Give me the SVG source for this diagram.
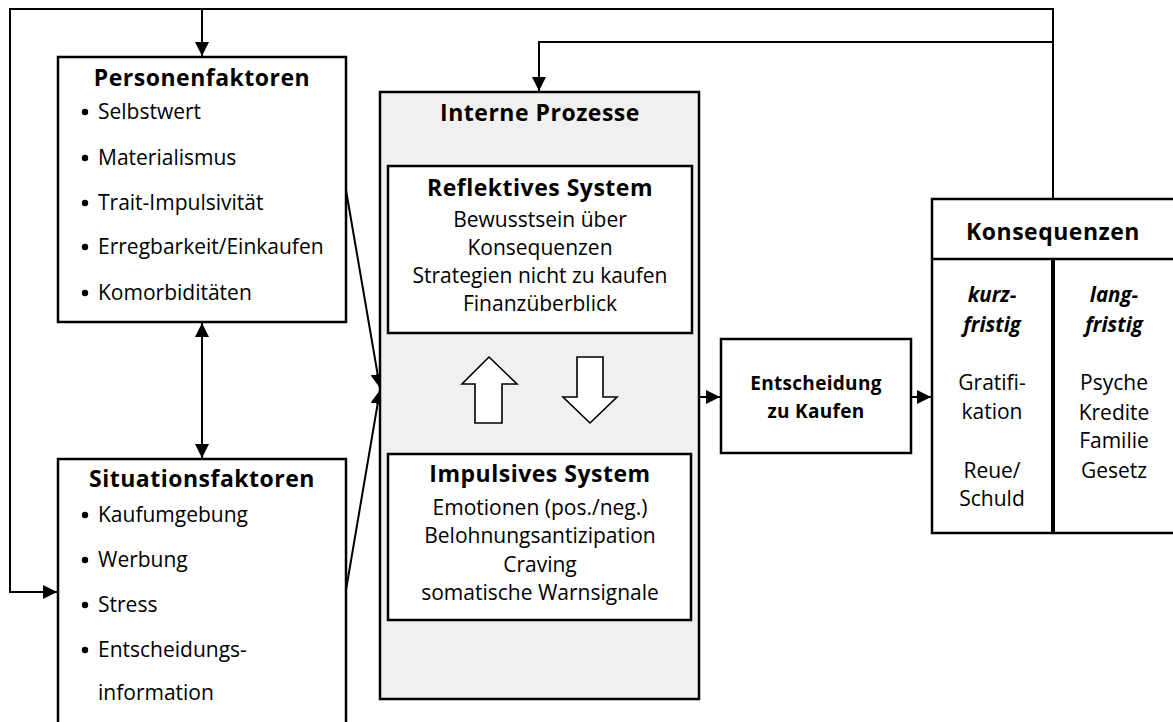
<svg xmlns="http://www.w3.org/2000/svg" width="1173" height="722" viewBox="0 0 1173 722">
  <style>
    .box { fill: #ffffff; stroke: #000000; stroke-width: 2.5; }
    .grey { fill: #f0f0f0; stroke: #000000; stroke-width: 2.5; }
    .ln { fill: none; stroke: #000000; stroke-width: 2.5; }
    .wire { fill: none; stroke: #000000; stroke-width: 2; }
    .hollow { fill: #ffffff; stroke: #000000; stroke-width: 1.6; stroke-linejoin: miter; }
    text { font-family: "Open Sans", Lato, "Liberation Sans", sans-serif; fill: #000000; }
    .title { font-size: 23px; font-weight: bold; letter-spacing: 0.5px; text-anchor: middle; }
    .body { font-size: 21px; }
    .mid { text-anchor: middle; }
    .dec { font-size: 19px; font-weight: bold; letter-spacing: 0.3px; text-anchor: middle; }
    .term { font-size: 20.5px; font-weight: bold; font-style: italic; text-anchor: middle; }
  </style>
  <defs>
    <marker id="ah" viewBox="0 0 14 14" markerWidth="14" markerHeight="14" refX="14" refY="7" orient="auto-start-reverse" markerUnits="userSpaceOnUse">
      <path d="M0,0 L14,7 L0,14 z" fill="#000000"/>
    </marker>
  </defs>

  <rect width="1173" height="722" fill="#ffffff"/>

  <!-- connectors -->
  <g id="connectors">
    <!-- outer feedback loop from consequences to person and situation factors -->
    <polyline class="wire" points="1053,199 1053,9 10,9 10,592 57,592" marker-end="url(#ah)"/>
    <line class="wire" x1="202" y1="9" x2="202" y2="56" marker-end="url(#ah)"/>
    <!-- inner feedback to internal processes -->
    <polyline class="wire" points="1053,42 539,42 539,91" marker-end="url(#ah)"/>
    <!-- person <-> situation -->
    <line class="wire" x1="202" y1="323" x2="202" y2="458" marker-start="url(#ah)" marker-end="url(#ah)"/>
    <!-- factors into internal processes -->
    <line class="wire" x1="346" y1="190" x2="380" y2="388" marker-end="url(#ah)"/>
    <line class="wire" x1="346" y1="590" x2="380" y2="390" marker-end="url(#ah)"/>
    <!-- internal processes -> decision -> consequences -->
    <line class="wire" x1="699" y1="397" x2="720" y2="397" marker-end="url(#ah)"/>
    <line class="wire" x1="911" y1="397" x2="931" y2="397" marker-end="url(#ah)"/>
  </g>

  <g id="personenfaktoren">
    <rect class="box" x="58" y="57" width="288" height="265"/>
    <text class="title" x="202" y="86">Personenfaktoren</text>
    <g class="body">
      <circle cx="85" cy="112" r="3.2"/><text x="98" y="119">Selbstwert</text>
      <circle cx="85" cy="158" r="3.2"/><text x="98" y="165">Materialismus</text>
      <circle cx="85" cy="203" r="3.2"/><text x="98" y="210">Trait-Impulsivität</text>
      <circle cx="85" cy="247" r="3.2"/><text x="98" y="254">Erregbarkeit/Einkaufen</text>
      <circle cx="85" cy="293" r="3.2"/><text x="98" y="300">Komorbiditäten</text>
    </g>
  </g>

  <g id="situationsfaktoren">
    <rect class="box" x="58" y="459" width="288" height="280"/>
    <text class="title" x="202" y="487">Situationsfaktoren</text>
    <g class="body">
      <circle cx="85" cy="515" r="3.2"/><text x="98" y="522">Kaufumgebung</text>
      <circle cx="85" cy="560" r="3.2"/><text x="98" y="567">Werbung</text>
      <circle cx="85" cy="605" r="3.2"/><text x="98" y="612">Stress</text>
      <circle cx="85" cy="650" r="3.2"/><text x="98" y="657">Entscheidungs-</text>
      <text x="98" y="700">information</text>
    </g>
  </g>

  <g id="interne-prozesse">
    <rect class="grey" x="380" y="92" width="319" height="607"/>
    <text class="title" x="540" y="121">Interne Prozesse</text>

    <g id="reflektives-system">
      <rect class="box" x="388" y="166" width="304" height="167"/>
      <text class="title" x="540" y="196">Reflektives System</text>
      <g class="body mid">
        <text x="540" y="227">Bewusstsein über</text>
        <text x="540" y="255">Konsequenzen</text>
        <text x="540" y="283">Strategien nicht zu kaufen</text>
        <text x="540" y="311">Finanzüberblick</text>
      </g>
    </g>

    <!-- exchange between the two systems -->
    <polygon class="hollow" points="489,357 517,384 502,384 502,423 475,423 475,384 462,384"/>
    <polygon class="hollow" points="577,357 603,357 603,397 617,397 590,423 563,397 577,397"/>

    <g id="impulsives-system">
      <rect class="box" x="388" y="454" width="303" height="166"/>
      <text class="title" x="540" y="482">Impulsives System</text>
      <g class="body mid">
        <text x="540" y="515">Emotionen (pos./neg.)</text>
        <text x="540" y="543">Belohnungsantizipation</text>
        <text x="540" y="572">Craving</text>
        <text x="540" y="600">somatische Warnsignale</text>
      </g>
    </g>
  </g>

  <g id="entscheidung">
    <rect class="box" x="721" y="339" width="190" height="114"/>
    <text class="dec" x="816" y="390">Entscheidung</text>
    <text class="dec" x="816" y="418">zu Kaufen</text>
  </g>

  <g id="konsequenzen">
    <rect class="box" x="932" y="199" width="252" height="334"/>
    <line class="ln" x1="932" y1="259" x2="1184" y2="259"/>
    <line x1="1053" y1="259" x2="1053" y2="533" stroke="#000000" stroke-width="4"/>
    <text class="title" x="1053" y="240">Konsequenzen</text>
    <text class="term" x="992" y="302">kurz-</text>
    <text class="term" x="992" y="332">fristig</text>
    <g class="body mid">
      <text x="992" y="390">Gratifi-</text>
      <text x="992" y="419">kation</text>
      <text x="992" y="478">Reue/</text>
      <text x="992" y="506">Schuld</text>
    </g>
    <text class="term" x="1114" y="302">lang-</text>
    <text class="term" x="1114" y="332">fristig</text>
    <g class="body mid">
      <text x="1114" y="390">Psyche</text>
      <text x="1114" y="420">Kredite</text>
      <text x="1114" y="448">Familie</text>
      <text x="1114" y="478">Gesetz</text>
    </g>
  </g>
</svg>
